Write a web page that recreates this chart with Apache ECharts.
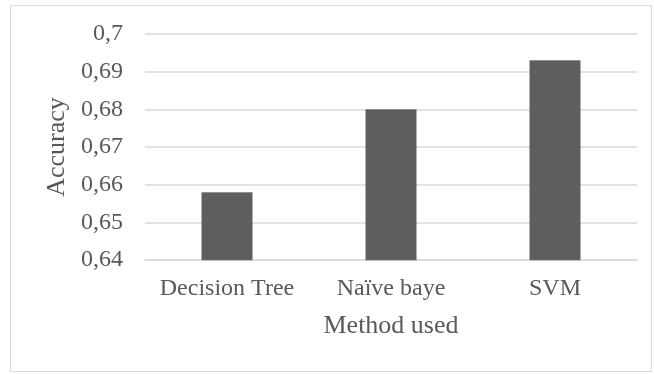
<!DOCTYPE html>
<html>
<head>
<meta charset="utf-8">
<script src="https://cdn.jsdelivr.net/npm/echarts@6/dist/echarts.min.js"></script>
<style>
  html, body { margin: 0; padding: 0; background: #ffffff; }
  #chart { width: 654px; height: 374px; }
</style>
</head>
<body>
<div id="chart"></div>
<script>
// Classification accuracy per method
const methods = ['Decision Tree', 'Naïve baye', 'SVM'];
const accuracy = [0.658, 0.680, 0.693];
const yTicks = { min: 0.64, max: 0.70, step: 0.01 };

const textColor = '#595959';
const gridColor = '#d9d9d9';
const serif = '"Liberation Serif", "Times New Roman", serif';

const chart = echarts.init(document.getElementById('chart'), null, { renderer: 'canvas' });

chart.setOption({
  backgroundColor: '#ffffff',
  animation: false,
  graphic: [{
    type: 'rect',
    shape: { x: 10.5, y: 5.5, width: 641, height: 366 },
    style: { fill: 'none', stroke: gridColor, lineWidth: 1 },
    silent: true
  }],
  grid: { left: 145, right: 17, top: 34, bottom: 114, containLabel: false },
  xAxis: {
    type: 'category',
    data: methods,
    name: 'Method used',
    nameLocation: 'middle',
    nameGap: 53,
    nameTextStyle: { fontFamily: serif, fontSize: 26, color: textColor },
    axisLine: { show: true, lineStyle: { color: gridColor, width: 1.5 } },
    axisTick: { show: false },
    axisLabel: { fontFamily: serif, fontSize: 24, color: textColor, margin: 17, interval: 0 }
  },
  yAxis: {
    type: 'value',
    min: yTicks.min,
    max: yTicks.max,
    interval: yTicks.step,
    name: 'Accuracy',
    nameLocation: 'middle',
    nameRotate: 90,
    nameGap: 74,
    nameTextStyle: { fontFamily: serif, fontSize: 26, color: textColor },
    axisLine: { show: false },
    axisTick: { show: false },
    splitLine: { show: true, lineStyle: { color: gridColor, width: 1.5 } },
    axisLabel: {
      fontFamily: serif, fontSize: 24, color: textColor, margin: 22,
      formatter: v => String(parseFloat(v.toFixed(2))).replace('.', ',')
    }
  },
  series: [{
    type: 'bar',
    data: accuracy,
    barWidth: 51,
    itemStyle: { color: '#5e5e5e', borderColor: '#6e6e6e', borderWidth: 0.5 }
  }]
});
</script>
</body>
</html>
